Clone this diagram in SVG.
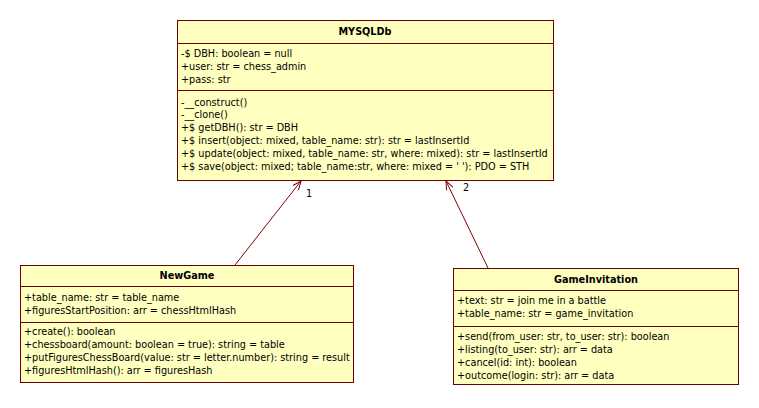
<svg xmlns="http://www.w3.org/2000/svg" width="759" height="408" viewBox="0 0 759 408">
<style>
.box{fill:#ffffc0;stroke:#6b0000;stroke-width:1}
.sep{stroke:#6b0000;stroke-width:1}
text{font-family:"DejaVu Sans","Liberation Sans",sans-serif;font-size:9.7px;fill:#000}
.title{font-weight:bold;text-anchor:middle}
.conn{stroke:#800000;stroke-width:1;fill:none}
</style>
<defs>
<marker id="open" viewBox="0 0 10 10" refX="9.5" refY="5" markerWidth="10" markerHeight="10" orient="auto" markerUnits="userSpaceOnUse">
<path d="M1,1.5 L9.5,5 L1,8.5" fill="none" stroke="#800000" stroke-width="1"/>
</marker>
</defs>
<g id="connectors">
<line class="conn" x1="235" y1="265" x2="301" y2="181" marker-end="url(#open)"/>
<text x="306" y="197">1</text>
<line class="conn" x1="488" y1="268" x2="446" y2="181" marker-end="url(#open)"/>
<text x="463" y="191">2</text>
</g>
<g id="MYSQLDb">
<rect class="box" x="177.5" y="20.5" width="376" height="160"/>
<line class="sep" x1="177.5" y1="43.5" x2="553.5" y2="43.5"/>
<line class="sep" x1="177.5" y1="90.5" x2="553.5" y2="90.5"/>
<text class="title" x="365" y="35">MYSQLDb</text>
<text x="181" y="57">-$ DBH: boolean = null</text>
<text x="181" y="70">+user: str = chess_admin</text>
<text x="181" y="83">+pass: str</text>
<text x="181" y="106">-__construct()</text>
<text x="181" y="118">-__clone()</text>
<text x="181" y="131">+$ getDBH(): str = DBH</text>
<text x="181" y="144">+$ insert(object: mixed, table_name: str): str = lastInsertId</text>
<text x="181" y="157">+$ update(object: mixed, table_name: str, where: mixed): str = lastInsertId</text>
<text x="181" y="170">+$ save(object: mixed; table_name:str, where: mixed = ' '): PDO = STH</text>
</g>
<g id="NewGame">
<rect class="box" x="20.5" y="265.5" width="333" height="117"/>
<line class="sep" x1="20.5" y1="286.5" x2="353.5" y2="286.5"/>
<line class="sep" x1="20.5" y1="322.5" x2="353.5" y2="322.5"/>
<text class="title" x="187" y="279">NewGame</text>
<text x="24" y="301">+table_name: str = table_name</text>
<text x="24" y="314">+figuresStartPosition: arr = chessHtmlHash</text>
<text x="24" y="335">+create(): boolean</text>
<text x="24" y="348">+chessboard(amount: boolean = true): string = table</text>
<text x="24" y="361">+putFiguresChessBoard(value: str = letter.number): string = result</text>
<text x="24" y="374">+figuresHtmlHash(): arr = figuresHash</text>
</g>
<g id="GameInvitation">
<rect class="box" x="453.5" y="268.5" width="285" height="116"/>
<line class="sep" x1="453.5" y1="290.5" x2="738.5" y2="290.5"/>
<line class="sep" x1="453.5" y1="326.5" x2="738.5" y2="326.5"/>
<text class="title" x="596" y="283">GameInvitation</text>
<text x="457" y="304">+text: str = join me in a battle</text>
<text x="457" y="317">+table_name: str = game_invitation</text>
<text x="457" y="340">+send(from_user: str, to_user: str): boolean</text>
<text x="457" y="353">+listing(to_user: str): arr = data</text>
<text x="457" y="366">+cancel(id: int): boolean</text>
<text x="457" y="379">+outcome(login: str): arr = data</text>
</g>
</svg>
